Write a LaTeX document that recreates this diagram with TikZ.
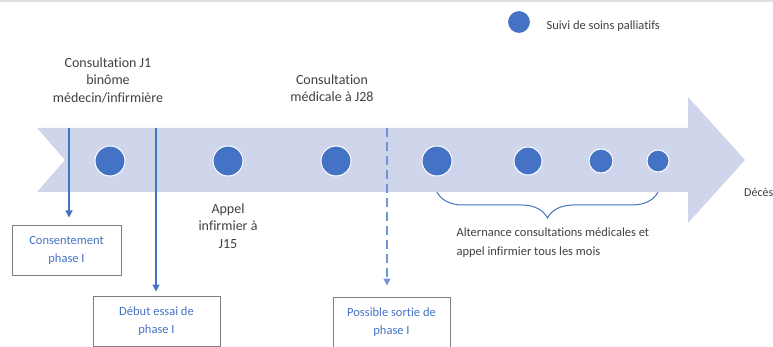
\documentclass[tikz,border=0pt]{standalone}
\usepackage{fontspec}
\setmainfont{Carlito}[Ligatures = NoCommon]
\usetikzlibrary{arrows.meta, calc, decorations.pathreplacing}
\definecolor{bandcol}{HTML}{CFD5EA}
\definecolor{dotcol}{HTML}{4472C4}
\definecolor{dashcol}{HTML}{7096D6}
\definecolor{txtcol}{HTML}{404040}
\tikzset{dot/.style = {circle, fill = dotcol, draw = white, line width = 1, inner sep = 0}}
\tikzset{lbl/.style = {text = txtcol, align = center, font = \fontsize{14}{17.5}\selectfont}}
\tikzset{phasebox/.style = {draw = black!50, line width = 1, text = dotcol, align = center, inner sep = 0, font = \fontsize{12.5}{18}\selectfont}}
\tikzset{link/.style = {line width = 1.2, -{Triangle[width = 7pt, length = 7pt]}}}

\begin{document}
\begin{tikzpicture}[x = 1pt, y = -1pt]
\useasboundingbox (0,0) rectangle (773,347);
\draw [black!12, line width = 1.5] (0,1) -- (773,1);
\fill [bandcol] (37,128) -- (688,128) -- (688,97) -- (745,160) -- (688,223) -- (688,192) -- (37,192) -- (65,160) -- cycle;
\foreach \x/\r [count = \i] in {110/15, 228/15, 336/15, 437/15, 528/14, 601/12, 658/11}
\node [dot, minimum size = 2*\r pt] (d\i) at (\x,161) {};
\node [dot, minimum size = 23pt] (leg) at (519,22) {};
\node [anchor = west, text = txtcol, font = \fontsize{12.5}{15}\selectfont] (legtxt) at (543,26) {Suivi de soins palliatifs};
\node [lbl] (j1) at (108,80) {Consultation J1\\binôme\\médecin/infirmière};
\node [lbl] (j28) at (332,88) {Consultation\\médicale à J28};
\node [lbl] (j15) at (228,226) {Appel\\infirmier à\\J15};
\node [lbl, anchor = west, inner sep = 0, font = \fontsize{12}{14}\selectfont] (deces) at (744,192) {Décès};
\node [lbl, anchor = west, align = left, font = \fontsize{12.5}{19}\selectfont] (alt) at (453,243) {Alternance consultations médicales et\\appel infirmier tous les mois};
\node [phasebox, minimum width = 109pt, minimum height = 49pt] (consent) at (66.5,250.5) {Consentement\\phase I};
\node [phasebox, minimum width = 127pt, minimum height = 50pt] (debut) at (156.5,321) {Début essai de\\phase I};
\node [phasebox, minimum width = 117pt, minimum height = 50pt] (sortie) at (391.5,322) {Possible sortie de\\phase I};
\coordinate (c1) at (69,128);
\coordinate (c2) at (156,128);
\coordinate (c3) at (387,128);
\draw [link, dotcol, shorten > = 8pt] (c1) -- (c1 |- consent.north);
\draw [link, dotcol, shorten > = 4pt] (c2) -- (c2 |- debut.north);
\draw [link, dashcol, dash pattern = on 9pt off 5pt, shorten > = 11pt] (c3) -- (c3 |- sortie.north);
\draw [dotcol, line width = 1, decorate, decoration = {brace, mirror, amplitude = 26pt}] (d4 |- 0,192) -- (d7 |- 0,192);
\end{tikzpicture}
\end{document}
